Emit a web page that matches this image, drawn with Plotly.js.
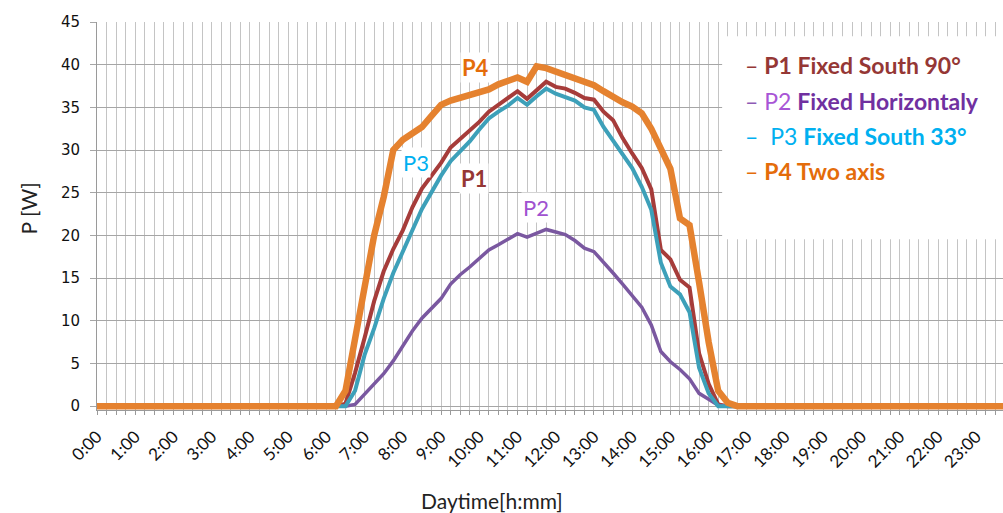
<!DOCTYPE html>
<html><head><meta charset="utf-8">
<script src="https://cdn.plot.ly/plotly-3.0.1.min.js"></script>
<style>html,body{margin:0;padding:0;background:#fff}</style>
</head><body><div id="chart" style="width:1003px;height:513px"></div>
<script>
const times = ["0:00","0:15","0:30","0:45","1:00","1:15","1:30","1:45","2:00","2:15","2:30","2:45",
"3:00","3:15","3:30","3:45","4:00","4:15","4:30","4:45","5:00","5:15","5:30","5:45",
"6:00","6:15","6:30","6:45","7:00","7:15","7:30","7:45","8:00","8:15","8:30","8:45",
"9:00","9:15","9:30","9:45","10:00","10:15","10:30","10:45","11:00","11:15","11:30","11:45",
"12:00","12:15","12:30","12:45","13:00","13:15","13:30","13:45","14:00","14:15","14:30","14:45",
"15:00","15:15","15:30","15:45","16:00","16:15","16:30","16:45","17:00","17:15","17:30","17:45",
"18:00","18:15","18:30","18:45","19:00","19:15","19:30","19:45","20:00","20:15","20:30","20:45",
"21:00","21:15","21:30","21:45","22:00","22:15","22:30","22:45","23:00","23:15","23:30","23:45"];

const p1FixedSouth90 = [0,0,0,0,0,0,0,0,0,0,0,0,0,0,0,0,0,0,0,0,0,0,0,0,0,0,
0.3,3.9,8.0,12.3,15.8,18.4,20.6,23.3,25.5,27.0,28.5,30.3,31.3,32.4,33.3,34.5,35.3,36.1,36.9,36.0,
37.0,38.0,37.4,37.2,36.7,36.1,35.9,34.5,33.5,31.4,29.6,27.9,25.4,18.3,17.2,14.8,13.9,6.2,2.6,0.2,
0,0,0,0,0,0,0,0,0,0,0,0,0,0,0,0,0,0,0,0,0,0,0,0,0,0,0,0,0,0];

const p2FixedHorizontal = [0,0,0,0,0,0,0,0,0,0,0,0,0,0,0,0,0,0,0,0,0,0,0,0,0,0,0,
0.2,1.4,2.7,3.8,5.3,7.0,8.8,10.3,11.5,12.6,14.3,15.4,16.3,17.3,18.3,18.9,19.6,20.2,19.8,
20.2,20.7,20.4,20.1,19.4,18.5,18.1,16.9,15.6,14.3,13.0,11.6,9.5,6.4,5.2,4.3,3.2,1.5,0.8,0.1,
0,0,0,0,0,0,0,0,0,0,0,0,0,0,0,0,0,0,0,0,0,0,0,0,0,0,0,0,0,0];

const p3FixedSouth33 = [0,0,0,0,0,0,0,0,0,0,0,0,0,0,0,0,0,0,0,0,0,0,0,0,0,0,0,
1.8,6.0,9.1,12.6,15.6,18.0,20.6,23.1,25.1,27.0,28.7,29.8,31.0,32.4,33.7,34.5,35.2,36.1,35.3,
36.3,37.2,36.6,36.2,35.8,35.0,34.7,32.7,31.1,29.3,27.9,25.7,23.0,16.8,14.0,13.1,11.0,4.5,1.5,
0,0,0,0,0,0,0,0,0,0,0,0,0,0,0,0,0,0,0,0,0,0,0,0,0,0,0,0,0,0,0];

const p4TwoAxis = [0,0,0,0,0,0,0,0,0,0,0,0,0,0,0,0,0,0,0,0,0,0,0,0,0,0,
1.8,8.0,14.5,20.0,24.5,30.0,31.2,31.9,32.7,34.0,35.3,35.8,36.1,36.4,36.7,37.1,37.7,38.2,38.5,38.0,
39.8,39.6,39.2,38.7,38.3,37.9,37.6,36.9,36.2,35.6,35.1,34.3,32.5,30.3,27.8,22.0,21.2,14.5,7.5,1.8,0.4,
0,0,0,0,0,0,0,0,0,0,0,0,0,0,0,0,0,0,0,0,0,0,0,0,0,0,0,0,0];

const seriesNames = ["P1 Fixed South 90°","P2 Fixed Horizontaly","P3 Fixed South 33°","P4 Two axis"];
const yTickVals = [0,5,10,15,20,25,30,35,40,45];
const hourTickText = times.map(t => t.endsWith(":00") ? t : "");

const FONT = "Lato, 'Open Sans', sans-serif";

const traces = [
  {x: times, y: p1FixedSouth90, name: seriesNames[0], type: "scatter", mode: "lines",
   line: {color: "#A63C3A", width: 4}},
  {x: times, y: p2FixedHorizontal, name: seriesNames[1], type: "scatter", mode: "lines",
   line: {color: "#7A58A0", width: 3.5}},
  {x: times, y: p3FixedSouth33, name: seriesNames[2], type: "scatter", mode: "lines",
   line: {color: "#3DA0B9", width: 4}},
  {x: times, y: p4TwoAxis, name: seriesNames[3], type: "scatter", mode: "lines",
   line: {color: "#E5822F", width: 6.5}}
];

function lab(text, xi, yv, color, bold) {
  return {xref: "x", yref: "y", x: xi, y: yv, text: bold ? "<b>" + text + "</b>" : text,
    showarrow: false, bgcolor: "#ffffff", borderpad: 1,
    font: {family: FONT, size: 22, color: color}};
}
function legRow(html, yPaper) {
  return {xref: "paper", yref: "paper", x: 0.713, y: yPaper, xanchor: "left", yanchor: "middle",
    text: html, showarrow: false, align: "left", font: {family: FONT, size: 23, color: "#000"}};
}

const layout = {
  width: 1003, height: 513,
  margin: {l: 97, r: 0, t: 22, b: 103},
  paper_bgcolor: "#ffffff", plot_bgcolor: "#ffffff",
  showlegend: false,
  font: {family: FONT, color: "#111"},
  xaxis: {
    type: "category", range: [0, 94.8],
    tickmode: "array", tickvals: times, ticktext: hourTickText,
    tickangle: -45, tickfont: {family: FONT, size: 17, color: "#111"},
    ticks: "outside", ticklen: 4, tickcolor: "#9a9a9a", tickwidth: 1, ticklabelstandoff: 5,
    showgrid: true, gridcolor: "#c4c4c4", gridwidth: 1,
    showline: true, linecolor: "#9a9a9a", linewidth: 1,
    zeroline: false, fixedrange: true
  },
  yaxis: {
    range: [-0.45, 45], tickmode: "array", tickvals: yTickVals,
    tickfont: {family: "'DejaVu Sans', sans-serif", size: 15, color: "#111"},
    ticks: "outside", ticklen: 6, tickcolor: "#a6a6a6", ticklabelstandoff: 7,
    showgrid: true, gridcolor: "#a6a6a6", gridwidth: 1,
    showline: true, linecolor: "#9a9a9a", linewidth: 1,
    zeroline: false, fixedrange: true
  },
  shapes: [
    {type: "rect", xref: "paper", yref: "paper", x0: 0.69, x1: 1.01, y0: 0.44, y1: 0.963,
     fillcolor: "#ffffff", line: {width: 0}, layer: "above"}
  ],
  annotations: [
    {xref: "paper", yref: "paper", x: 0.436, y: -0.232, xanchor: "center", yanchor: "middle",
     text: "Daytime[h:mm]", showarrow: false, font: {family: FONT, size: 21, color: "#222"}},
    {xref: "paper", yref: "paper", x: -0.076, y: 0.52, xanchor: "center", yanchor: "middle",
     text: "P [W]", textangle: -90, showarrow: false, font: {family: FONT, size: 21, color: "#222"}},
    lab("P4", 39.6, 39.7, "#E46C0A", true),
    lab("P3", 33.4, 28.6, "#00B0F0", false),
    lab("P1", 39.4, 26.7, "#953735", true),
    lab("P2", 45.9, 23.3, "#A052D0", false),
    legRow("<span style='color:#953735'>–</span> <span style='color:#953735'><b>P1 Fixed South 90°</b></span>", 0.888),
    legRow("<span style='color:#8E5AB5'>–</span> <span style='color:#A855D6'>P2</span> <span style='color:#7030A0'><b>Fixed Horizontaly</b></span>", 0.797),
    legRow("<span style='color:#00B0F0'>–</span>  <span style='color:#00B0F0'>P3</span> <span style='color:#00B0F0'><b>Fixed South 33°</b></span>", 0.706),
    legRow("<span style='color:#E46C0A'>–</span> <span style='color:#E46C0A'><b>P4 Two axis</b></span>", 0.615)
  ]
};

Plotly.newPlot("chart", traces, layout, {displayModeBar: false, staticPlot: true});
</script>
</body></html>
